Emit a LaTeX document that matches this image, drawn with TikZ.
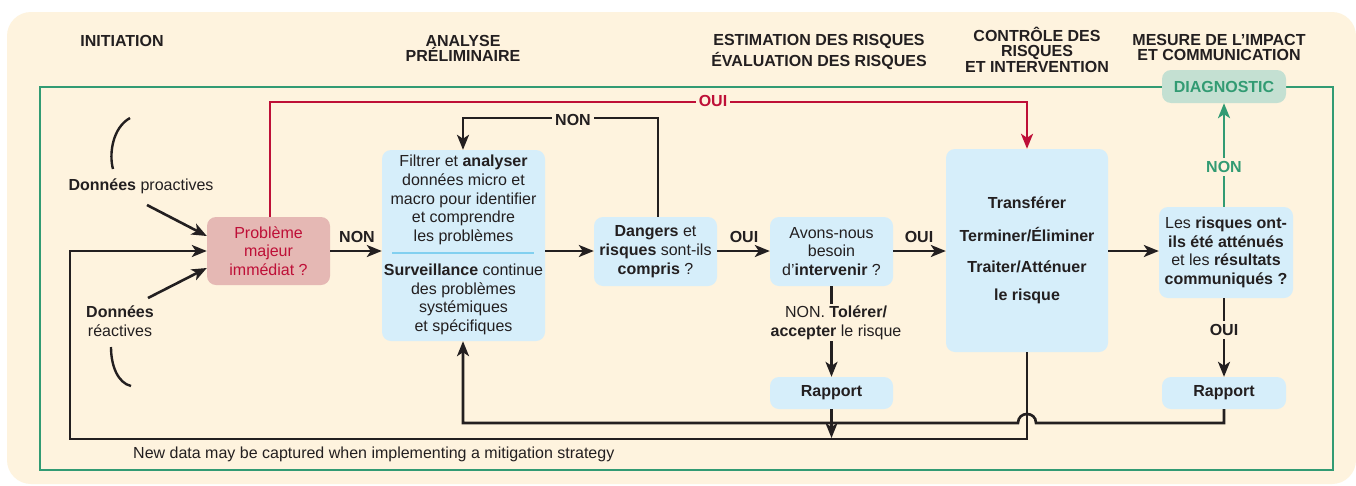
\documentclass[tikz,border=0pt]{standalone}
\usepackage{fontspec}
\setmainfont{Liberation Sans}
\usetikzlibrary{arrows.meta}
\definecolor{bg}{RGB}{254,243,222}
\definecolor{boxblue}{RGB}{214,238,250}
\definecolor{boxpink}{RGB}{229,184,180}
\definecolor{redl}{RGB}{190,15,55}
\definecolor{greenl}{RGB}{50,155,115}
\definecolor{diagfill}{RGB}{196,224,210}
\definecolor{ink}{RGB}{35,31,32}
\definecolor{sepblue}{RGB}{130,208,240}
\begin{document}
\begin{tikzpicture}[x=1pt,y=-1pt,
  every node/.style={font=\fontsize{16}{18.7}\selectfont, text=ink},
  box/.style={fill=boxblue, rounded corners=9pt, align=center, inner sep=0pt},
  hdr/.style={font=\bfseries\fontsize{16}{15.5}\selectfont, align=center, inner sep=0pt},
  lbl/.style={font=\bfseries\fontsize{16}{16}\selectfont, fill=bg, inner sep=3pt},
  conn/.style={draw=ink, line width=2.6pt},
  arr/.style={conn, -{Stealth[length=15pt,width=12pt,inset=4pt]}},
]
\useasboundingbox[fill=white] (0,0) rectangle (1356,485);
\fill[bg, rounded corners=24pt] (7,12) rectangle (1356,484);
\draw[greenl, line width=2.6pt] (40,87) rectangle (1333,470);

% headers
\node[hdr] (h1) at (122,41) {INITIATION};
\node[hdr] (h2) at (463,48.5) {ANALYSE\\PRÉLIMINAIRE};
\node[hdr, font=\bfseries\fontsize{16}{21}\selectfont] (h3) at (819,51.5) {ESTIMATION DES RISQUES\\ÉVALUATION DES RISQUES};
\node[hdr] (h4) at (1037,49.5) {CONTRÔLE DES\\RISQUES\\ET INTERVENTION};
\node[hdr] (h5) at (1219,47.5) {MESURE DE L’IMPACT\\ET COMMUNICATION};

% nodes
\node[box, fill=diagfill, minimum width=124pt, minimum height=33pt, text=greenl, font=\bfseries\fontsize{16}{16}\selectfont] (diag) at (1224,86.5) {DIAGNOSTIC};
\node[box, fill=boxpink, minimum width=123pt, minimum height=68pt, text=redl] (prob) at (268.5,251) {Problème\\majeur\\immédiat ?};
\node[box, minimum width=163pt, minimum height=191pt] (filt) at (463.5,245.5) {};
\node[align=center, inner sep=0pt] (filtA) at (463.5,200) {Filtrer et \textbf{analyser}\\données micro et\\macro pour identifier\\et comprendre\\les problèmes};
\node[align=center, inner sep=0pt] (filtB) at (463.5,299.5) {\textbf{Surveillance} continue\\des problèmes\\systémiques\\et spécifiques};
\draw[sepblue, line width=2.4pt] (392,253) -- (534,253);
\node[box, minimum width=123pt, minimum height=69pt] (dang) at (655.5,251.5) {\textbf{Dangers} et\\\textbf{risques} sont-ils\\\textbf{compris} ?};
\node[box, minimum width=123pt, minimum height=69pt] (avons) at (831.5,251.5) {Avons-nous\\besoin\\d’\textbf{intervenir} ?};
\node[box, minimum width=123pt, minimum height=32pt, font=\bfseries\fontsize{16}{16}\selectfont] (rap1) at (831.5,393) {Rapport};
\node[box, minimum width=162pt, minimum height=203pt, font=\bfseries\fontsize{16}{18.7}\selectfont] (big) at (1027,250.5) {Transférer\\[14pt]Terminer/Éliminer\\[12.5pt]Traiter/Atténuer\\[9.5pt]le risque};
\node[box, minimum width=134pt, minimum height=91pt] (risq) at (1226,252.5) {Les \textbf{risques ont-}\\\textbf{ils été atténués}\\et les \textbf{résultats}\\\textbf{communiqués ?}};
\node[box, minimum width=124pt, minimum height=32pt, font=\bfseries\fontsize{16}{16}\selectfont] (rap2) at (1224,393) {Rapport};

% data inputs
\node[inner sep=0pt] (dpro) at (141,186) {\textbf{Données} proactives};
\node[align=center, inner sep=0pt] (drea) at (120,321.5) {\textbf{Données}\\réactives};
\draw[ink, line width=2.4pt] (130,118) .. controls (112,128) and (109,155) .. (113,169);
\draw[ink, line width=2.4pt] (111,347) .. controls (111,366) and (118,383) .. (131,386);
\coordinate (dproS) at (147,205);
\coordinate (dreaS) at (148,298);
\draw[arr] (dproS) -- ([yshift=15pt]prob.west);
\draw[arr] (dreaS) -- ([yshift=-17pt]prob.west);

% main flow
\draw[arr] (prob.east) -- (filt.west |- prob.east);
\node[lbl, fill=none] (lnon1) at (357,237) {NON};
\draw[arr] (filt.east |- prob.east) -- (dang.west |- prob.east);
\draw[arr] (dang.east |- prob.east) -- (avons.west |- prob.east);
\node[lbl, fill=none] (loui1) at (744,237) {OUI};
\draw[arr] (avons.east |- prob.east) -- (big.west |- prob.east);
\node[lbl, fill=none] (loui2) at (919,237) {OUI};
\draw[arr] (big.east |- prob.east) -- (risq.west |- prob.east);

% red OUI
\draw[redl, line width=2.6pt, -{Stealth[length=15pt,width=12pt,inset=4pt]}] (prob.north -| 270,0) -- (270,102) -- (1027,102) -- (big.north);
\node[lbl, text=redl] (louired) at (713,101) {OUI};

% NON loop
\draw[arr] (dang.north -| 658,0) -- (658,118) -- (463,118) -- (filt.north -| 463,0);
\node[lbl] (lnon2) at (573,120) {NON};

% avons down
\draw[arr] (avons.south) -- (rap1.north);
\node[align=center, fill=bg, inner sep=2pt] (ltol) at (836,322.5) {NON. \textbf{Tolérer/}\\\textbf{accepter} le risque};

% risq up / down
\draw[greenl, line width=2.6pt, -{Stealth[length=15pt,width=12pt,inset=4pt]}] (risq.north -| 1224,0) -- (diag.south);
\node[lbl, text=greenl] (lnon3) at (1224,167) {NON};
\draw[arr] (risq.south -| 1224,0) -- (rap2.north);
\node[lbl] (loui3) at (1224,330) {OUI};

% bottom loops
\coordinate (c1) at (1027,439);
\coordinate (c2) at (70,439);
\coordinate (c3) at (70,251);
\draw[arr] (big.south) -- (c1) -- (c2) -- (c3) -- (prob.west);
\coordinate (d1) at (1224,423);
\draw[arr] (rap2.south) -- (d1) -- (1036,423) .. controls (1036,411) and (1018,411) .. (1018,423) -- (463,423) -- (filt.south -| 463,0);
\coordinate (r1) at (831.5,438);
\draw[arr] (rap1.south) -- (r1);

\node[anchor=west, inner sep=0pt] (newdata) at (133,454) {New data may be captured when implementing a mitigation strategy};
\end{tikzpicture}
\end{document}
